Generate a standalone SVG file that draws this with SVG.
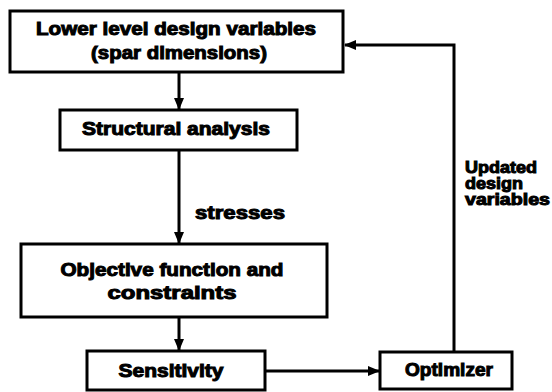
<svg xmlns="http://www.w3.org/2000/svg" width="552" height="392" viewBox="0 0 552 392">
<style>
.box{fill:#fff;stroke:#000;stroke-width:3}
.ln{fill:none;stroke:#000;stroke-width:3}
text{font-family:"Liberation Sans",Arial,sans-serif;font-weight:bold;font-size:18px;fill:#000;stroke:#000;stroke-width:1}
.c{text-anchor:middle}
.s{font-size:16px}
</style>
<defs>
<marker id="ah" viewBox="0 0 12 10" refX="11" refY="5" markerWidth="12" markerHeight="10" markerUnits="userSpaceOnUse" orient="auto">
<path d="M0,0 L12,5 L0,10 Z" fill="#000"/>
</marker>
</defs>
<rect width="552" height="392" fill="#fff"/>
<g id="connectors">
<line class="ln" x1="179" y1="72" x2="179" y2="109" marker-end="url(#ah)"/>
<line class="ln" x1="179" y1="150" x2="179" y2="243" marker-end="url(#ah)"/>
<line class="ln" x1="179" y1="317" x2="179" y2="350" marker-end="url(#ah)"/>
<line class="ln" x1="265" y1="371" x2="379" y2="371" marker-end="url(#ah)"/>
<polyline class="ln" points="454,352 454,45 345,45" marker-end="url(#ah)"/>
</g>
<g id="node1">
<rect class="box" x="10" y="11" width="333" height="61"/>
<text class="c" x="176" y="35" textLength="280" lengthAdjust="spacingAndGlyphs">Lower level design variables</text>
<text class="c" x="179" y="59" textLength="176" lengthAdjust="spacingAndGlyphs">(spar dimensions)</text>
</g>
<g id="node2">
<rect class="box" x="60" y="110" width="237" height="40"/>
<text class="c" x="176" y="135" textLength="188" lengthAdjust="spacingAndGlyphs">Structural analysis</text>
</g>
<g id="label-stresses">
<text x="195" y="219" textLength="90" lengthAdjust="spacingAndGlyphs">stresses</text>
</g>
<g id="node3">
<rect class="box" x="21" y="244" width="306" height="73"/>
<text class="c" x="172" y="276" textLength="223" lengthAdjust="spacingAndGlyphs">Objective function and</text>
<text class="c" x="172" y="299" textLength="129" lengthAdjust="spacingAndGlyphs">constraints</text>
</g>
<g id="node4">
<rect class="box" x="87" y="351" width="178" height="39"/>
<text class="c" x="171" y="377" textLength="105" lengthAdjust="spacingAndGlyphs">Sensitivity</text>
</g>
<g id="node5">
<rect class="box" x="380" y="352" width="132" height="37"/>
<text class="c" x="449" y="376" textLength="88" lengthAdjust="spacingAndGlyphs">Optimizer</text>
</g>
<g id="label-updated">
<text class="s" x="465" y="173" textLength="72" lengthAdjust="spacingAndGlyphs">Updated</text>
<text class="s" x="465" y="189" textLength="58" lengthAdjust="spacingAndGlyphs">design</text>
<text class="s" x="465" y="205" textLength="85" lengthAdjust="spacingAndGlyphs">variables</text>
</g>
</svg>
